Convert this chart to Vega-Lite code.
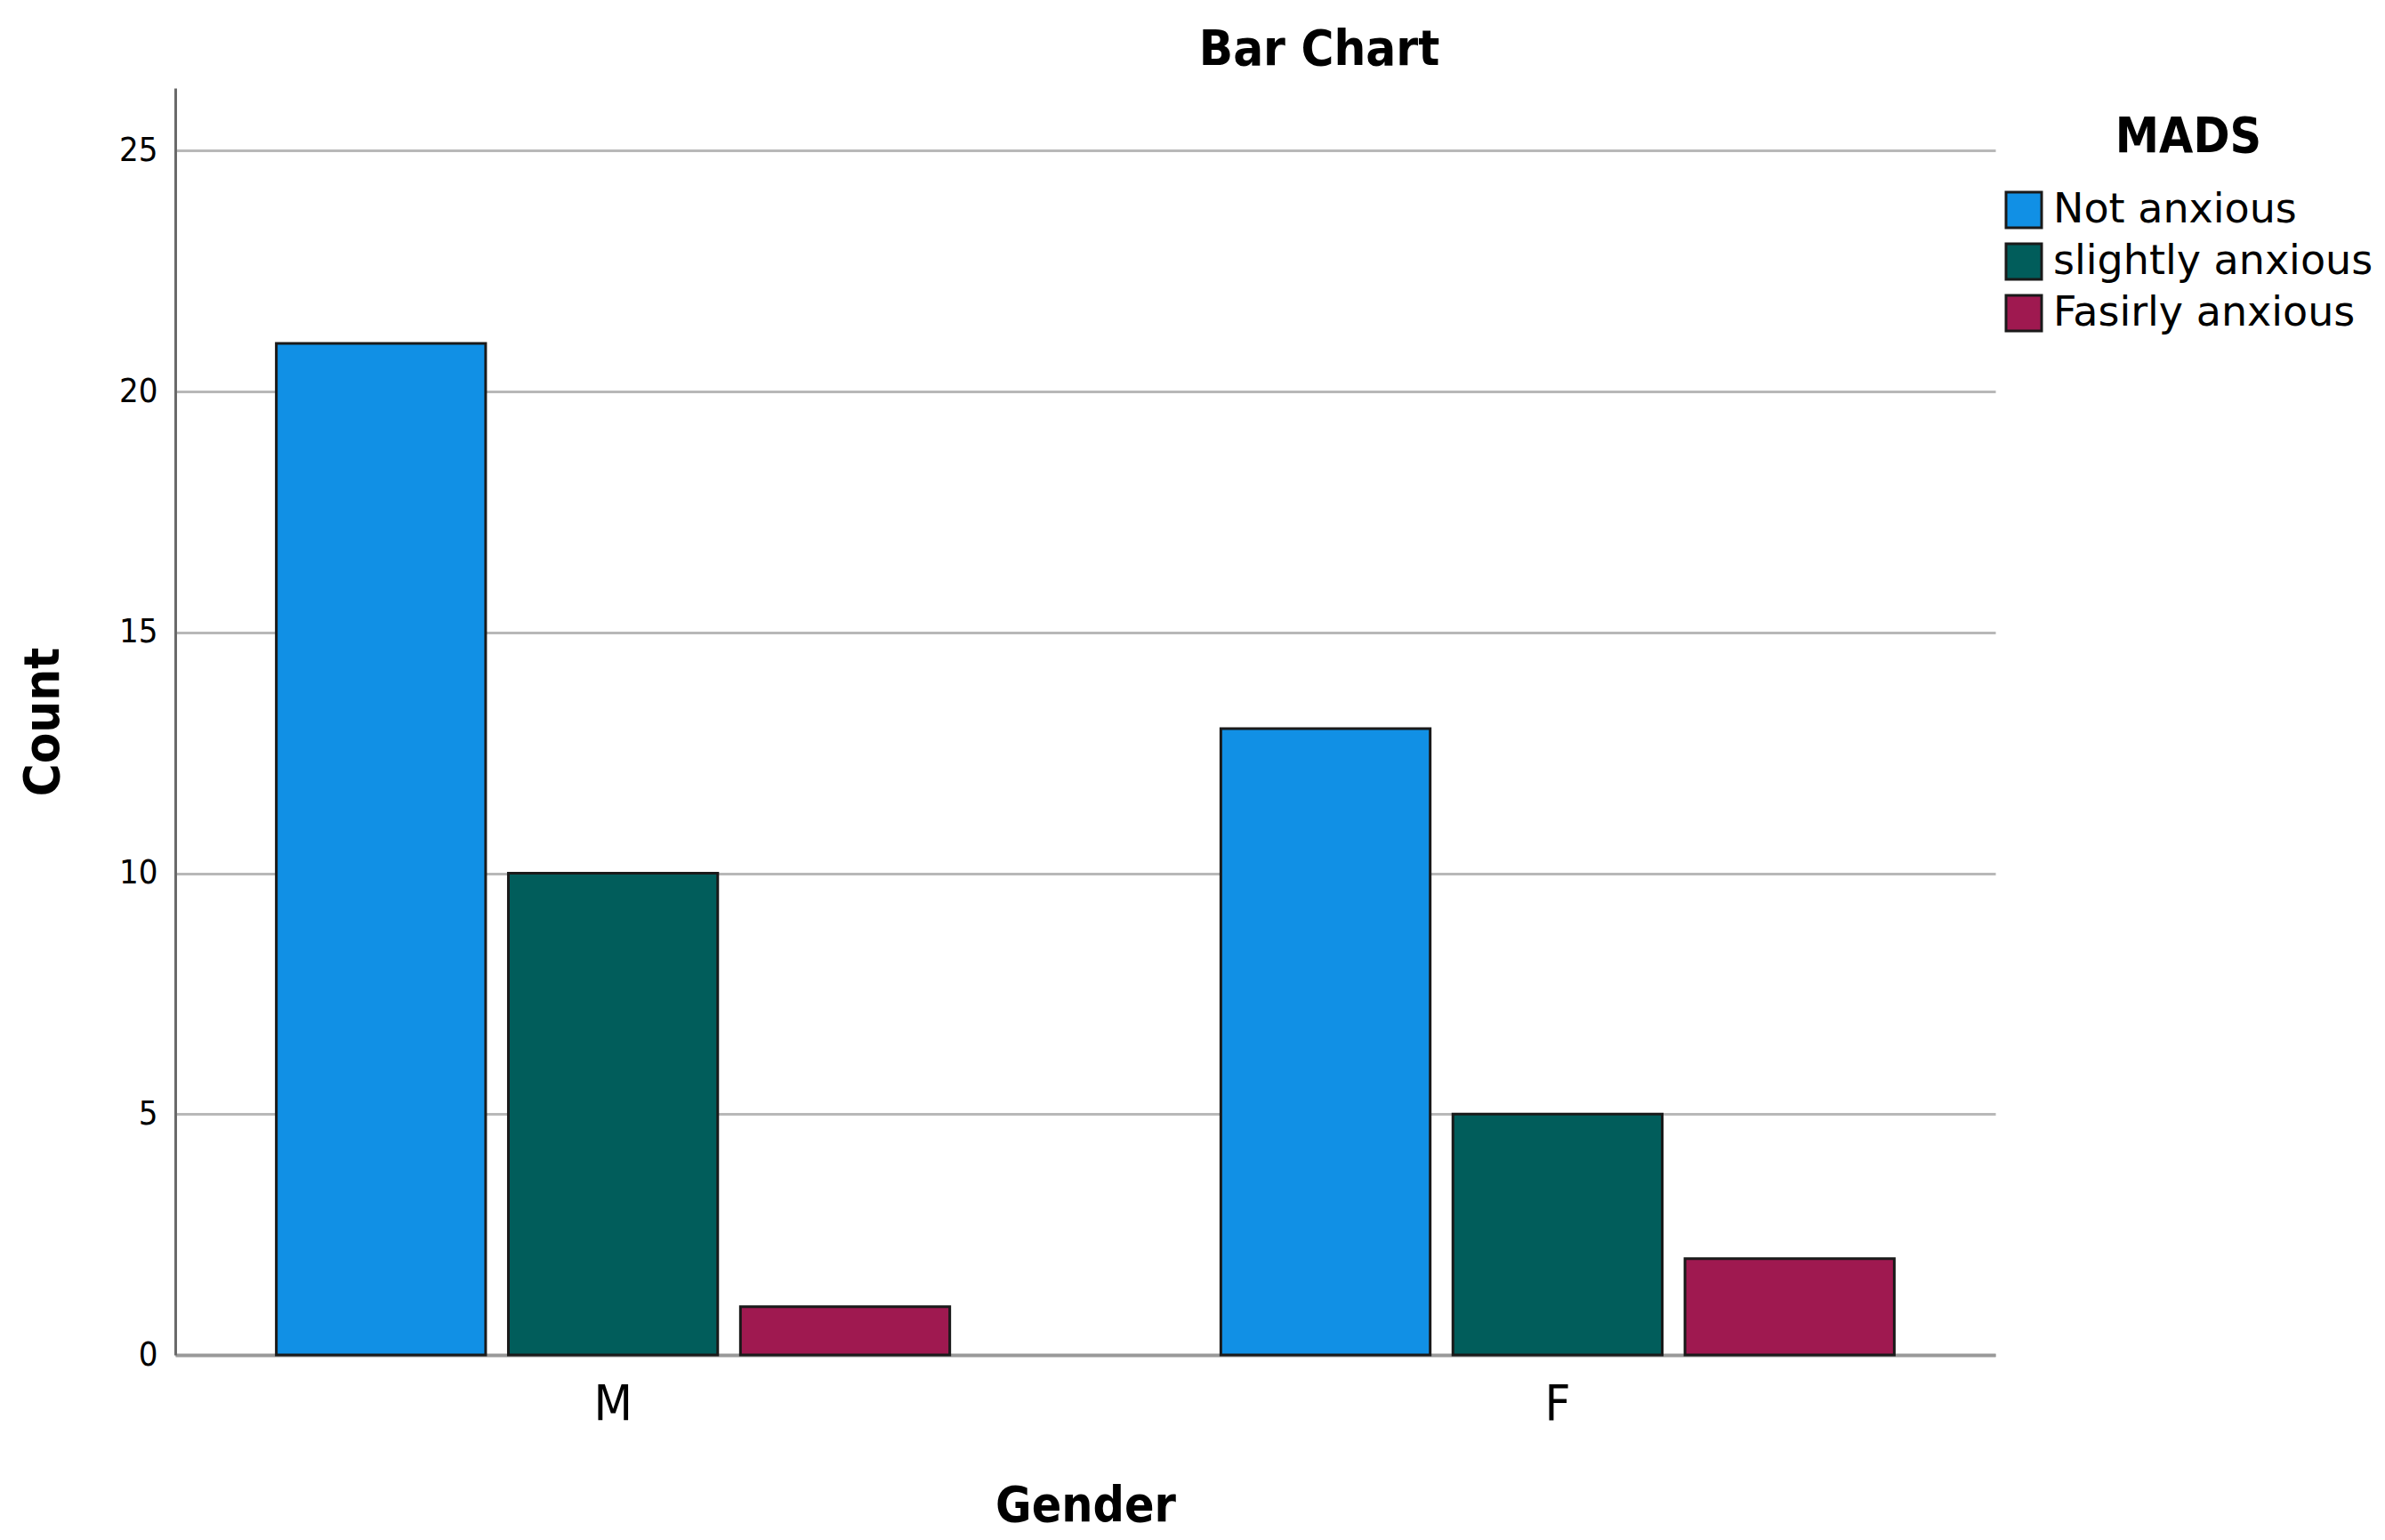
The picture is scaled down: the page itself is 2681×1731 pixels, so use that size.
{
  "$schema": "https://vega.github.io/schema/vega-lite/v6.json",
  "autosize": {"type": "none"},
  "width": 2046,
  "height": 1424,
  "padding": {"left": 197, "top": 99, "right": 438, "bottom": 208},
  "background": "white",
  "title": {
    "text": "Bar Chart",
    "font": "DejaVu Sans Condensed",
    "fontSize": 56,
    "fontWeight": "bold",
    "color": "black",
    "anchor": "middle",
    "frame": "group",
    "dx": 263,
    "offset": 14
  },
  "data": {
    "values": [
      {"Gender": "M", "MADS": "Not anxious", "Count": 21},
      {"Gender": "M", "MADS": "slightly anxious", "Count": 10},
      {"Gender": "M", "MADS": "Fasirly anxious", "Count": 1},
      {"Gender": "F", "MADS": "Not anxious", "Count": 13},
      {"Gender": "F", "MADS": "slightly anxious", "Count": 5},
      {"Gender": "F", "MADS": "Fasirly anxious", "Count": 2}
    ]
  },
  "mark": {"type": "bar", "stroke": "#1a1a1a", "strokeWidth": 3},
  "encoding": {
    "x": {
      "field": "Gender",
      "type": "nominal",
      "sort": ["M", "F"],
      "scale": {"paddingInner": 0.287, "paddingOuter": 0.107},
      "axis": {
        "title": "Gender",
        "titleFont": "DejaVu Sans Condensed",
        "titleFontSize": 55,
        "titleFontWeight": "bold",
        "titleColor": "black",
        "titlePadding": 60,
        "labelFont": "DejaVu Sans Condensed",
        "labelFontSize": 56,
        "labelColor": "black",
        "labelAngle": 0,
        "labelPadding": 28,
        "ticks": false,
        "domainColor": "#999999",
        "domainWidth": 4,
        "grid": false
      }
    },
    "xOffset": {
      "field": "MADS",
      "type": "nominal",
      "sort": ["Not anxious", "slightly anxious", "Fasirly anxious"],
      "scale": {"paddingInner": 0.098, "paddingOuter": 0}
    },
    "y": {
      "field": "Count",
      "type": "quantitative",
      "scale": {"domain": [0, 26.3], "nice": false},
      "axis": {
        "title": "Count",
        "titleFont": "DejaVu Sans Condensed",
        "titleFontSize": 56,
        "titleFontWeight": "bold",
        "titleColor": "black",
        "titlePadding": 56,
        "values": [0, 5, 10, 15, 20, 25],
        "labelFont": "DejaVu Sans Condensed",
        "labelFontSize": 38,
        "labelColor": "black",
        "labelPadding": 20,
        "ticks": false,
        "domainColor": "#6a6a6a",
        "domainWidth": 3,
        "gridColor": "#b8b8b8",
        "gridWidth": 3
      }
    },
    "color": {
      "field": "MADS",
      "type": "nominal",
      "sort": ["Not anxious", "slightly anxious", "Fasirly anxious"],
      "scale": {
        "domain": ["Not anxious", "slightly anxious", "Fasirly anxious"],
        "range": ["#1190E5", "#015D5B", "#9F1950"]
      },
      "legend": {
        "title": "MADS",
        "orient": "none",
        "legendX": 2055,
        "legendY": 29,
        "titleFont": "DejaVu Sans Condensed",
        "titleFontSize": 55,
        "titleFontWeight": "bold",
        "titleColor": "black",
        "titleAnchor": "middle",
        "titlePadding": 30,
        "labelFont": "DejaVu Sans",
        "labelFontSize": 46,
        "labelColor": "black",
        "labelOffset": 10,
        "labelLimit": 0,
        "symbolType": "square",
        "symbolSize": 1600,
        "symbolStrokeColor": "#1a1a1a",
        "symbolStrokeWidth": 3,
        "rowPadding": 6
      }
    }
  },
  "config": {
    "view": {"stroke": null}
  }
}
